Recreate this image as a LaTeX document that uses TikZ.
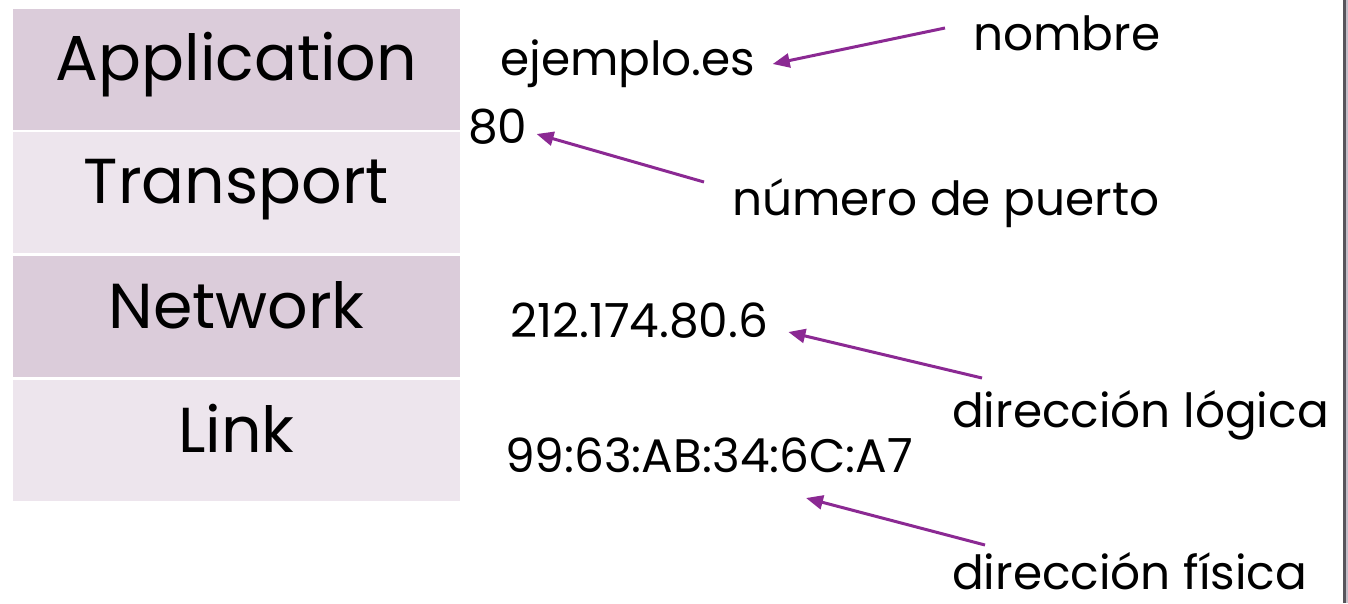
\documentclass[tikz,border=0pt]{standalone}
\usepackage{fontspec}
\setmainfont{Poppins}
\usetikzlibrary{arrows.meta,calc}

\definecolor{layerdark}{RGB}{219,204,218}
\definecolor{layerlight}{RGB}{237,229,237}
\definecolor{pointer}{RGB}{139,41,147}
\definecolor{rulegray}{RGB}{88,86,92}
\definecolor{ruleshade}{RGB}{196,190,200}

\tikzset{
  layer/.style={rectangle, minimum width=447pt, minimum height=121pt, inner sep=0pt},
  layername/.style={font=\fontsize{63.5}{70}\selectfont, inner sep=0pt, anchor=base},
  addr/.style={font=\fontsize{47}{52}\selectfont, inner sep=0pt, anchor=base west},
  ptr/.style={draw=pointer, line width=3pt, -{Triangle[length=17pt,width=14pt]}},
}

\begin{document}
\begin{tikzpicture}[x=1pt,y=-1pt]
  \useasboundingbox (0,0) rectangle (1348,603);

  % Define nodes
  \node[layer, fill=layerdark]  (app)   at (236.5,69.5)  {};
  \node[layer, fill=layerlight] (trans) at (236.5,192.5) {};
  \node[layer, fill=layerdark]  (net)   at (236.5,316.5) {};
  \node[layer, fill=layerlight] (link)  at (236.5,440)   {};

  \node[layername] (appname)   at ($(app.center)+(0,10.5)$)   {Application};
  \node[layername] (transname) at ($(trans.center)+(0,10.5)$) {Transport};
  \node[layername] (netname)   at ($(net.center)+(0,11.5)$)   {Network};
  \node[layername] (linkname)  at ($(link.center)+(0,12)$)    {Link};

  \node[addr] (dom)  at (500,75)  {ejemplo.es};
  \node[addr] (port) at (468,143) {80};
  \node[addr] (ip)   at (510,337) {212.174.80.6};
  \node[addr] (mac)  at (505,472) {99:63:AB:34:6C:A7};

  \node[addr] (nombre) at (973,50)  {nombre};
  \node[addr] (numero) at (732,215) {número de puerto};
  \node[addr] (logica) at (952,427) {dirección lógica};
  \node[addr] (fisica) at (952,589) {dirección física};

  % Connect the nodes
  \draw[ptr] ($(nombre.base west)+(-28,-22)$) -- ($(dom.base east)+(17,-11)$);
  \draw[ptr] ($(numero.base west)+(-28,-33)$) -- ($(port.base east)+(9,-9)$);
  \draw[ptr] ($(logica.base west)+(30,-49)$)  -- ($(ip.base east)+(20,-5)$);
  \draw[ptr] ($(fisica.base west)+(33,-44)$)  -- ($(mac.base west)+(301,26)$);

  % Slide edge on the right
  \fill[ruleshade] (1345,0) rectangle (1348,603);
  \fill[rulegray]  (1343,0) rectangle (1345.5,603);

\end{tikzpicture}
\end{document}
